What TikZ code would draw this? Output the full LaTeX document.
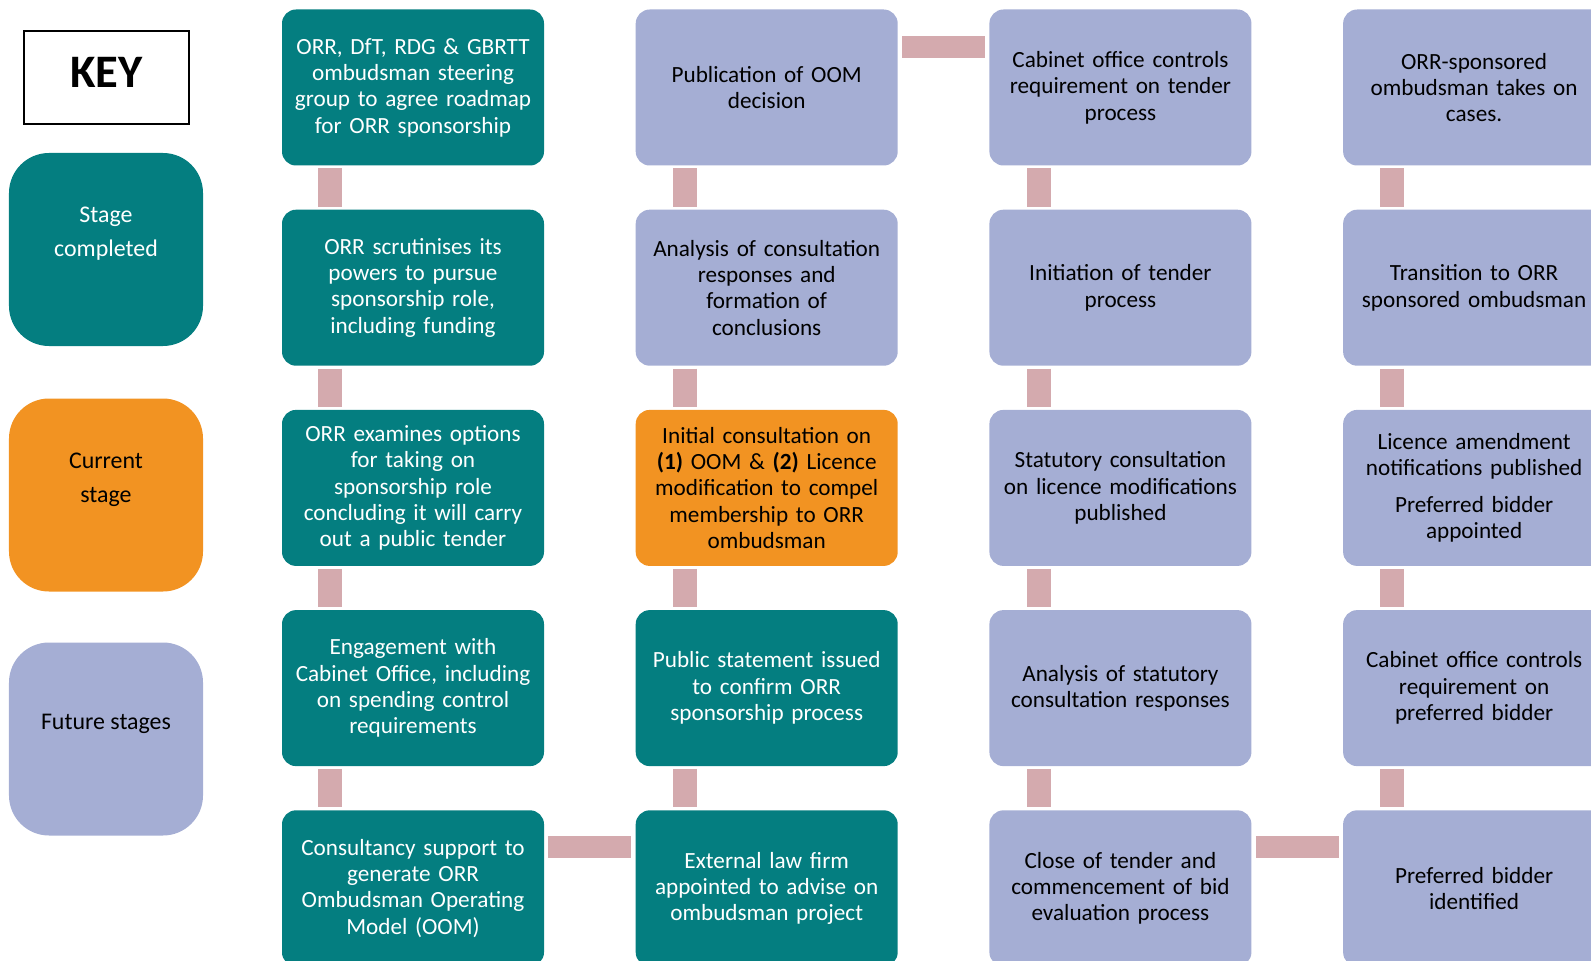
\documentclass[tikz,border=0pt]{standalone}
\usepackage{fontspec}
\setmainfont{Carlito}
\usetikzlibrary{positioning}
\definecolor{ormteal}{RGB}{4,126,128}
\definecolor{ormlav}{RGB}{165,174,212}
\definecolor{ormorange}{RGB}{242,147,34}
\definecolor{ormpink}{RGB}{212,170,174}

\begin{document}
\begin{tikzpicture}[
    box/.style={rounded corners=0.28cm, minimum width=5.24cm, minimum height=3.12cm, text width=5.1cm, align=center, inner sep=0.05cm, font=\fontsize{13.2}{15}\selectfont},
    done/.style={box, fill=ormteal, text=white},
    now/.style={box, fill=ormorange, text=black},
    todo/.style={box, fill=ormlav, text=black},
    keybox/.style={rounded corners=0.8cm, minimum width=3.88cm, minimum height=3.86cm, align=center, text depth=0.7cm, font=\fontsize{13.6}{19.5}\selectfont},
    vbar/.style={draw=ormpink, line width=0.48cm, shorten <=0.05cm, shorten >=0.05cm},
    hbar/.style={draw=ormpink, line width=0.44cm, shorten <=0.08cm, shorten >=0.08cm},
    node distance=0.87cm and 1.82cm
]
    \clip (0,0) rectangle (31.82,-19.2);
    % key
    \node[draw, line width=1.1pt, minimum width=3.3cm, minimum height=1.86cm, text depth=0.2cm, font=\fontsize{26.5}{28}\selectfont\bfseries] (key) at (2.13,-1.55) {KEY};
    \node[keybox, fill=ormteal, text=white] (kdone) at (2.12,-4.99) {Stage\\completed};
    \node[keybox, fill=ormorange] (know) at (2.12,-9.9) {Current\\stage};
    \node[keybox, fill=ormlav] (kfut) at (2.12,-14.78) {Future stages};
    % column 1
    \node[done] (a1) at (8.26,-1.75) {ORR, DfT, RDG \& GBRTT\\ombudsman steering\\group to agree roadmap\\for ORR sponsorship};
    \node[done, below=of a1] (a2) {ORR scrutinises its\\powers to pursue\\sponsorship role,\\including funding};
    \node[done, below=of a2] (a3) {ORR examines options\\for taking on\\sponsorship role\\concluding it will carry\\out a public tender};
    \node[done, below=of a3] (a4) {Engagement with\\Cabinet Office, including\\on spending control\\requirements};
    \node[done, below=of a4] (a5) {Consultancy support to\\generate ORR\\Ombudsman Operating\\Model (OOM)};
    % column 2
    \node[todo, right=of a1] (b1) {Publication of OOM\\decision};
    \node[todo, right=of a2] (b2) {Analysis of consultation\\responses and\\formation of\\conclusions};
    \node[now, right=of a3] (b3) {Initial consultation on\\\textbf{(1)} OOM \& \textbf{(2)} Licence\\modification to compel\\membership to ORR\\ombudsman};
    \node[done, right=of a4] (b4) {Public statement issued\\to confirm ORR\\sponsorship process};
    \node[done, right=of a5] (b5) {External law firm\\appointed to advise on\\ombudsman project};
    % column 3
    \node[todo, right=of b1] (c1) {Cabinet office controls\\requirement on tender\\process};
    \node[todo, right=of b2] (c2) {Initiation of tender\\process};
    \node[todo, right=of b3] (c3) {Statutory consultation\\on licence modifications\\published};
    \node[todo, right=of b4] (c4) {Analysis of statutory\\consultation responses};
    \node[todo, right=of b5] (c5) {Close of tender and\\commencement of bid\\evaluation process};
    % column 4
    \node[todo, right=of c1] (d1) {ORR-sponsored\\ombudsman takes on\\cases.};
    \node[todo, right=of c2] (d2) {Transition to ORR\\sponsored ombudsman};
    \node[todo, right=of c3] (d3) {Licence amendment\\notifications published\\[0.2cm]Preferred bidder\\appointed};
    \node[todo, right=of c4] (d4) {Cabinet office controls\\requirement on\\preferred bidder};
    \node[todo, right=of c5] (d5) {Preferred bidder\\identified};
    % links
    \draw[vbar] ([xshift=0.97cm]a1.south west) -- ([xshift=0.97cm]a2.north west);
    \draw[vbar] ([xshift=0.97cm]a2.south west) -- ([xshift=0.97cm]a3.north west);
    \draw[vbar] ([xshift=0.97cm]a3.south west) -- ([xshift=0.97cm]a4.north west);
    \draw[vbar] ([xshift=0.97cm]a4.south west) -- ([xshift=0.97cm]a5.north west);
    \draw[vbar] ([xshift=0.99cm]b1.south west) -- ([xshift=0.99cm]b2.north west);
    \draw[vbar] ([xshift=0.99cm]b2.south west) -- ([xshift=0.99cm]b3.north west);
    \draw[vbar] ([xshift=0.99cm]b3.south west) -- ([xshift=0.99cm]b4.north west);
    \draw[vbar] ([xshift=0.99cm]b4.south west) -- ([xshift=0.99cm]b5.north west);
    \draw[vbar] ([xshift=0.99cm]c1.south west) -- ([xshift=0.99cm]c2.north west);
    \draw[vbar] ([xshift=0.99cm]c2.south west) -- ([xshift=0.99cm]c3.north west);
    \draw[vbar] ([xshift=0.99cm]c3.south west) -- ([xshift=0.99cm]c4.north west);
    \draw[vbar] ([xshift=0.99cm]c4.south west) -- ([xshift=0.99cm]c5.north west);
    \draw[vbar] ([xshift=0.99cm]d1.south west) -- ([xshift=0.99cm]d2.north west);
    \draw[vbar] ([xshift=0.99cm]d2.south west) -- ([xshift=0.99cm]d3.north west);
    \draw[vbar] ([xshift=0.99cm]d3.south west) -- ([xshift=0.99cm]d4.north west);
    \draw[vbar] ([xshift=0.99cm]d4.south west) -- ([xshift=0.99cm]d5.north west);
    \draw[hbar] ([yshift=-0.75cm]b1.north east) -- ([yshift=-0.75cm]c1.north west);
    \draw[hbar] ([yshift=-0.74cm]a5.north east) -- ([yshift=-0.74cm]b5.north west);
    \draw[hbar] ([yshift=-0.74cm]c5.north east) -- ([yshift=-0.74cm]d5.north west);
\end{tikzpicture}
\end{document}
